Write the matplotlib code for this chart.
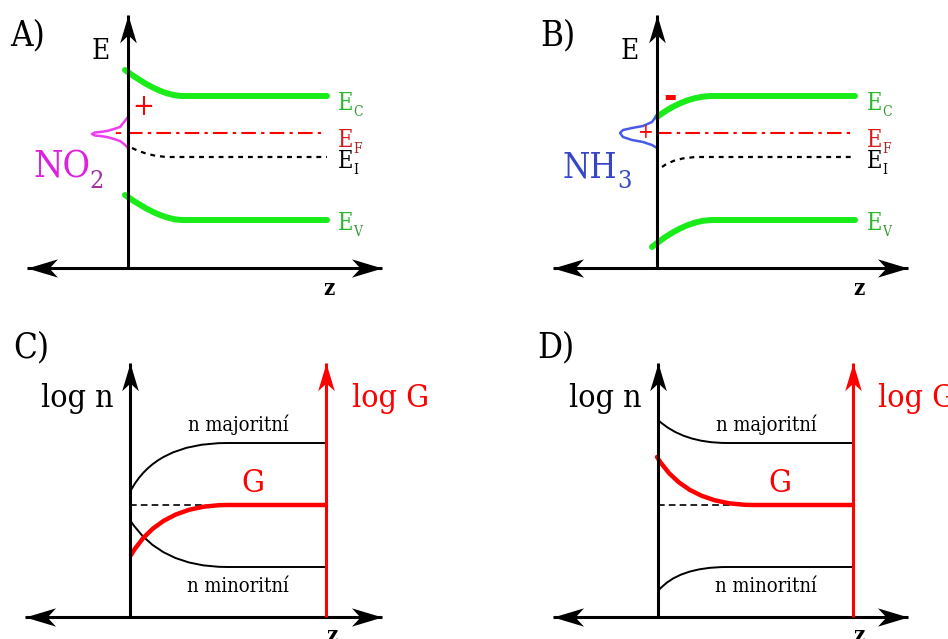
import matplotlib
matplotlib.use("Agg")
import matplotlib.pyplot as plt
import numpy as np
from matplotlib.path import Path
from matplotlib.patches import PathPatch

W, H = 948, 639
FONT = dict(family="DejaVu Serif", stretch="condensed")

GREEN = "#19ec19"
GREEN_TXT, GREEN_SUB = "#2ab82a", "#3c963c"
RED = "#ff0000"
EF_TXT, EF_SUB = "#d41a1a", "#a52828"

# --- panel A: NO2 adsorbed (downward bend) ---------------------------------
# bends: start, control, bend end, flat end  (z, E) in px from axis origin
A_EC_Z, A_EC_E = [-3, 32, 55, 199], [198, 172, 172, 172]
A_EV_Z, A_EV_E = [-3, 32, 55, 199], [73, 48, 48, 48]
A_EI_Z, A_EI_E = [4, 22, 42, 199], [120, 111, 111, 111]
A_EF_Z, A_EF_E = [0, 197], [135, 135]
A_BUMP_Z = [0, -4, -8, -14, -21, -28, -33, -36, -33, -28, -21, -14, -8, -4, 0]
A_BUMP_E = [151, 146, 141, 139, 137, 136, 135.5, 134, 132.5, 132, 131, 129, 127, 124, 120]

# --- panel B: NH3 adsorbed (upward bend) -----------------------------------
B_EC_Z, B_EC_E = [0, 28, 56, 198], [151, 172, 172, 172]
B_EV_Z, B_EV_E = [-5, 28, 56, 198], [21, 48, 48, 48]
B_EI_Z, B_EI_E = [5, 18, 43, 198], [101, 111, 111, 111]
B_EF_Z, B_EF_E = [0, 198], [135, 135]
B_BUMP_Z = [0, -5, -14, -25, -34, -37, -34, -25, -14, -5, 0]
B_BUMP_E = [153, 146, 142, 140, 138, 135, 131, 128, 126, 123, 120]

# --- panel C: carrier densities, depletion ---------------------------------
C_MAJ_Z, C_MAJ_N = [0, 25, 97, 196], [125, 174, 174, 174]
C_MIN_Z, C_MIN_N = [0, 30, 97, 196], [97, 50, 50, 50]
C_G_Z, C_G_N = [1, 30, 97, 196], [62, 112, 112, 112]
C_REF_Z, C_REF_N = [0, 77], [112, 112]

# --- panel D: carrier densities, accumulation ------------------------------
D_MAJ_Z, D_MAJ_N = [0, 25, 69, 195], [197, 174, 174, 174]
D_MIN_Z, D_MIN_N = [0, 20, 69, 195], [26, 50, 50, 50]
D_G_Z, D_G_N = [-1, 28, 95, 195], [160, 112, 112, 112]
D_REF_Z, D_REF_N = [0, 79], [112, 112]

LEVEL_LABELS = ["C", "F", "I", "V"]
LEVEL_BASE = [158, 121, 100, 38]
LEVEL_COLORS = [(GREEN_TXT, GREEN_SUB), (EF_TXT, EF_SUB), ("black", "black"), (GREEN_TXT, GREEN_SUB)]

HEAD = np.array([[0, 0], [-1, 0.3], [-0.72, 0], [-1, -0.3], [0, 0]])


def head(direction):
    v = HEAD.copy()
    if direction == "left":
        v = -v
    elif direction == "up":
        v = np.column_stack([-v[:, 1], v[:, 0]])
    return Path(v, closed=True)


def panel(fig, left, top, right, bottom, ox, oy):
    ax = fig.add_axes([left / W, 1 - bottom / H, (right - left) / W, (bottom - top) / H])
    ax.set_xlim(left - ox, right - ox)
    ax.set_ylim(oy - bottom, oy - top)
    ax.axis("off")
    return ax


def bend(ax, zs, es, color, lw, z=2, ls="solid"):
    path = Path(np.column_stack([zs, es]), [Path.MOVETO, Path.CURVE3, Path.CURVE3, Path.LINETO])
    ax.add_patch(PathPatch(path, fill=False, edgecolor=color, lw=lw, ls=ls,
                           capstyle="round" if ls == "solid" else "butt",
                           joinstyle="round", zorder=z))


def axes_cross(ax, zmin, zmax, top, color="black"):
    ax.plot([zmin, zmax], [0, 0], color=color, lw=2.2, zorder=4, solid_capstyle="butt")
    ax.plot([0, 0], [0, top], color=color, lw=2.2, zorder=4, solid_capstyle="butt")
    ax.plot([zmax], [0], marker=head("right"), ms=44, color=color, mew=0, zorder=5)
    ax.plot([zmin], [0], marker=head("left"), ms=44, color=color, mew=0, zorder=5)
    ax.plot([0], [top], marker=head("up"), ms=40, color=color, mew=0, zorder=5)


def levels(ax, x):
    for lab, base, (c1, c2) in zip(LEVEL_LABELS, LEVEL_BASE, LEVEL_COLORS):
        ax.text(x, base, "E", color=c1, fontsize=17, ha="left", va="baseline", **FONT)
        ax.text(x + 15, base - 6, lab, color=c2, fontsize=10, ha="left", va="baseline", **FONT)


fig = plt.figure(figsize=(W / 100, H / 100), dpi=100)

# ---------------- A ----------------
ax = panel(fig, 0, 0, 474, 320, 128, 268)
axes_cross(ax, -101, 254, 253)
bend(ax, A_EC_Z, A_EC_E, GREEN, 4.3)
bend(ax, A_EV_Z, A_EV_E, GREEN, 4.3)
bend(ax, A_EI_Z, A_EI_E, "black", 1.6, ls=(0, (2.2, 2.2)))
ax.plot(A_EF_Z, A_EF_E, color=RED, lw=1.5, ls=(0, (7, 2.5, 1.6, 2.5)), zorder=2)
ax.plot(A_BUMP_Z, A_BUMP_E, color="#ee3cee", lw=1.8, zorder=3, solid_joinstyle="round")
ax.text(15, 161, "+", color=RED, fontsize=21, ha="center", va="center", **FONT)
ax.text(-10, 134, "-", color=RED, fontsize=17, ha="center", va="center", **FONT)
ax.text(-95, 90, "NO", color="#dd22dd", fontsize=27, ha="left", va="baseline", **FONT)
ax.text(-39, 80, "2", color="#a030a0", fontsize=18, ha="left", va="baseline", **FONT)
ax.text(-27, 209, "E", fontsize=20, ha="center", va="baseline", **FONT)
ax.text(-118, 223, "A)", fontsize=25, ha="left", va="baseline", **FONT)
ax.text(201, -27, "z", fontsize=16, fontweight="bold", ha="center", va="baseline", **FONT)
levels(ax, 210)

# ---------------- B ----------------
ax = panel(fig, 474, 0, 948, 320, 657, 268)
axes_cross(ax, -104, 251, 253)
bend(ax, B_EC_Z, B_EC_E, GREEN, 4.3)
bend(ax, B_EV_Z, B_EV_E, GREEN, 4.3)
bend(ax, B_EI_Z, B_EI_E, "black", 1.6, ls=(0, (2.2, 2.2)))
ax.plot(B_EF_Z, B_EF_E, color=RED, lw=1.5, ls=(0, (7, 2.5, 1.6, 2.5)), zorder=2)
ax.plot(B_BUMP_Z, B_BUMP_E, color="#4a5ae8", lw=1.8, zorder=3, solid_joinstyle="round")
ax.text(13, 171, "-", color=RED, fontsize=26, fontweight="bold", ha="center", va="center", **FONT)
ax.text(-11, 135, "+", color=RED, fontsize=15, ha="center", va="center", **FONT)
ax.text(-95, 90, "NH", color="#3646c8", fontsize=25, ha="left", va="baseline", **FONT)
ax.text(-40, 80, "3", color="#3646c8", fontsize=18, ha="left", va="baseline", **FONT)
ax.text(-27, 209, "E", fontsize=20, ha="center", va="baseline", **FONT)
ax.text(-117, 223, "B)", fontsize=25, ha="left", va="baseline", **FONT)
ax.text(202, -27, "z", fontsize=16, fontweight="bold", ha="center", va="baseline", **FONT)
levels(ax, 210)

# ---------------- C ----------------
ax = panel(fig, 0, 320, 474, 639, 130, 617)
axes_cross(ax, -105, 252, 254)
ax.plot([196, 196], [0, 254], color=RED, lw=2.2, zorder=4, solid_capstyle="butt")
ax.plot([196], [254], marker=head("up"), ms=40, color=RED, mew=0, zorder=5)
bend(ax, C_MAJ_Z, C_MAJ_N, "black", 1.4)
bend(ax, C_MIN_Z, C_MIN_N, "black", 1.4)
bend(ax, C_G_Z, C_G_N, RED, 3.2, z=3)
ax.plot(C_REF_Z, C_REF_N, color="black", lw=1.2, ls=(0, (4, 2.5)), zorder=2)
ax.text(108, 186, "n majoritní", fontsize=14.5, ha="center", va="baseline", **FONT)
ax.text(108, 25, "n minoritní", fontsize=14.5, ha="center", va="baseline", **FONT)
ax.text(123, 125, "G", color=RED, fontsize=23, ha="center", va="baseline", **FONT)
ax.text(-53, 210, "log n", fontsize=23, ha="center", va="baseline", **FONT)
ax.text(222, 210, "log G", color=RED, fontsize=23, ha="left", va="baseline", **FONT)
ax.text(-117, 260, "C)", fontsize=25, ha="left", va="baseline", **FONT)
ax.text(202, -25, "z", fontsize=16, fontweight="bold", ha="center", va="baseline", **FONT)

# ---------------- D ----------------
ax = panel(fig, 474, 320, 948, 639, 658, 617)
axes_cross(ax, -105, 250, 254)
ax.plot([195, 195], [0, 254], color=RED, lw=2.2, zorder=4, solid_capstyle="butt")
ax.plot([195], [254], marker=head("up"), ms=40, color=RED, mew=0, zorder=5)
bend(ax, D_MAJ_Z, D_MAJ_N, "black", 1.4)
bend(ax, D_MIN_Z, D_MIN_N, "black", 1.4)
bend(ax, D_G_Z, D_G_N, RED, 3.2, z=3)
ax.plot(D_REF_Z, D_REF_N, color="black", lw=1.2, ls=(0, (4, 2.5)), zorder=2)
ax.text(108, 186, "n majoritní", fontsize=14.5, ha="center", va="baseline", **FONT)
ax.text(108, 25, "n minoritní", fontsize=14.5, ha="center", va="baseline", **FONT)
ax.text(122, 125, "G", color=RED, fontsize=23, ha="center", va="baseline", **FONT)
ax.text(-53, 210, "log n", fontsize=23, ha="center", va="baseline", **FONT)
ax.text(220, 210, "log G", color=RED, fontsize=23, ha="left", va="baseline", **FONT)
ax.text(-121, 260, "D)", fontsize=25, ha="left", va="baseline", **FONT)
ax.text(201, -25, "z", fontsize=16, fontweight="bold", ha="center", va="baseline", **FONT)

fig.savefig("out.png", dpi=100, facecolor="white")
